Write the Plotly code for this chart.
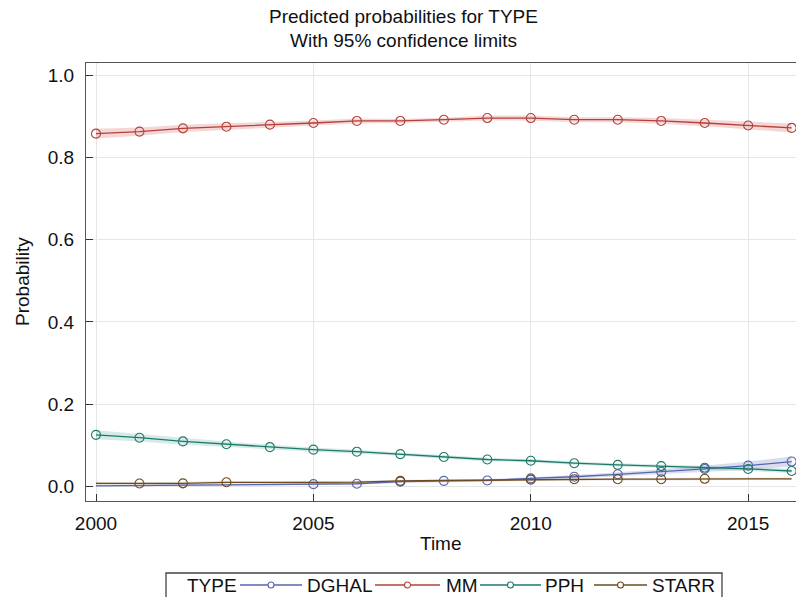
import plotly.graph_objects as go

years = list(range(2000, 2017))

# Predicted probabilities
dghal = [0.001, 0.002, 0.002, 0.003, 0.004, 0.005, 0.006, 0.011, 0.013, 0.014,
         0.019, 0.023, 0.029, 0.035, 0.042, 0.050, 0.060]
dghal_lo = [0.000, 0.000, 0.000, 0.001, 0.002, 0.003, 0.004, 0.008, 0.010, 0.011,
            0.016, 0.019, 0.024, 0.029, 0.034, 0.040, 0.048]
dghal_hi = [0.003, 0.004, 0.004, 0.005, 0.006, 0.007, 0.008, 0.014, 0.016, 0.017,
            0.022, 0.027, 0.034, 0.041, 0.050, 0.060, 0.072]

mm = [0.858, 0.863, 0.871, 0.875, 0.880, 0.884, 0.889, 0.889, 0.892, 0.896,
      0.896, 0.892, 0.892, 0.889, 0.884, 0.878, 0.872]
mm_lo = [0.846, 0.853, 0.862, 0.867, 0.873, 0.878, 0.883, 0.884, 0.887, 0.890,
         0.890, 0.886, 0.886, 0.882, 0.876, 0.869, 0.861]
mm_hi = [0.870, 0.873, 0.880, 0.883, 0.887, 0.890, 0.895, 0.894, 0.897, 0.902,
         0.902, 0.898, 0.898, 0.896, 0.892, 0.887, 0.883]

pph = [0.125, 0.118, 0.109, 0.102, 0.095, 0.089, 0.084, 0.078, 0.071, 0.065,
       0.062, 0.056, 0.052, 0.049, 0.045, 0.042, 0.037]
pph_lo = [0.114, 0.109, 0.101, 0.095, 0.089, 0.084, 0.079, 0.074, 0.067, 0.061,
          0.058, 0.052, 0.048, 0.045, 0.040, 0.037, 0.032]
pph_hi = [0.136, 0.127, 0.117, 0.109, 0.101, 0.094, 0.089, 0.082, 0.075, 0.069,
          0.066, 0.060, 0.056, 0.053, 0.050, 0.047, 0.042]

starr = [0.007, 0.0065, 0.007, 0.0095, 0.009, 0.0095, 0.010, 0.013, 0.014, 0.015,
         0.016, 0.017, 0.017, 0.017, 0.018, 0.018, 0.018]
starr_lo = [0.003, 0.003, 0.003, 0.006, 0.006, 0.006, 0.007, 0.010, 0.011, 0.012,
            0.013, 0.014, 0.014, 0.014, 0.015, 0.015, 0.015]
starr_hi = [0.011, 0.010, 0.011, 0.013, 0.012, 0.013, 0.013, 0.016, 0.017, 0.018,
            0.019, 0.020, 0.020, 0.020, 0.021, 0.021, 0.021]

# years where a marker is shown
dghal_marks = list(range(2005, 2017))
mm_marks = years
pph_marks = years
starr_marks = [2001, 2002, 2003, 2007, 2010, 2011, 2012, 2013, 2014]

names = ["DGHAL", "MM", "PPH", "STARR"]
colors = ["#5566b0", "#b3403a", "#1d7a6a", "#6e4a1c"]
fills = ["rgba(85,102,176,0.22)", "rgba(215,90,90,0.25)",
         "rgba(29,140,120,0.18)", "rgba(130,100,60,0.15)"]
values = [dghal, mm, pph, starr]
lows = [dghal_lo, mm_lo, pph_lo, starr_lo]
highs = [dghal_hi, mm_hi, pph_hi, starr_hi]
marks = [dghal_marks, mm_marks, pph_marks, starr_marks]

fig = go.Figure()

for lo, hi, fill in zip(lows, highs, fills):
    fig.add_trace(go.Scatter(x=years, y=lo, mode="lines", line=dict(width=0),
                             hoverinfo="skip", showlegend=False))
    fig.add_trace(go.Scatter(x=years, y=hi, mode="lines", line=dict(width=0),
                             fill="tonexty", fillcolor=fill,
                             hoverinfo="skip", showlegend=False))

for name, v, mk, col in zip(names, values, marks, colors):
    fig.add_trace(go.Scatter(x=years, y=v, mode="lines", name=name,
                             line=dict(color=col, width=1.3), showlegend=False))
    mx = [y for y in years if y in mk]
    my = [v[years.index(y)] for y in mx]
    fig.add_trace(go.Scatter(x=mx, y=my, mode="markers", cliponaxis=False,
                             marker=dict(symbol="circle-open", size=9, color=col,
                                         line=dict(width=1.1, color=col)),
                             showlegend=False))

# ---- layout geometry (pixels) ----
W, H = 796, 597
L, R, T, B = 86, 0, 63, 96
PW, PH = W - L - R, H - T - B


def px_x(px):
    return (px - L) / PW


def px_y(py):
    return (H - B - py) / PH


font_family = "Liberation Sans, Arial, sans-serif"
txt_col = "#111111"
FS = 19


def label(text, x, y, xanchor="center", angle=0, size=FS):
    return dict(text=text, x=px_x(x), y=px_y(y), xref="paper", yref="paper",
                showarrow=False, xanchor=xanchor, yanchor="middle", textangle=angle,
                font=dict(size=size, color=txt_col))


annotations = [
    label("Predicted probabilities for TYPE", 403, 17),
    label("With 95% confidence limits", 403, 40),
    label("Probability", 22, 282, angle=-90),
    label("Time", 441, 543),
]

shapes = []

# custom legend (box, title, line samples with markers, labels)
leg_y = 585
shapes.append(dict(type="rect", xref="paper", yref="paper",
                   x0=px_x(166), x1=px_x(722), y0=px_y(573), y1=px_y(615),
                   line=dict(color="#444444", width=1.3), fillcolor="white", layer="above"))
annotations.append(label("TYPE", 185, leg_y, xanchor="left"))
leg_lines = [(240, 302), (375, 440), (480, 541), (594, 647)]
leg_text_x = [305, 444, 543, 650]
for (x0, x1), tx, name, col in zip(leg_lines, leg_text_x, names, colors):
    shapes.append(dict(type="line", xref="paper", yref="paper",
                       x0=px_x(x0), x1=px_x(x1), y0=px_y(leg_y), y1=px_y(leg_y),
                       line=dict(color=col, width=1.3), layer="above"))
    xc = px_x((x0 + x1) / 2)
    yc = px_y(leg_y)
    shapes.append(dict(type="circle", xref="paper", yref="paper",
                       xsizemode="pixel", ysizemode="pixel", xanchor=xc, yanchor=yc,
                       x0=-3, x1=3, y0=-3, y1=3,
                       line=dict(color=col, width=1.1), fillcolor="white", layer="above"))
    annotations.append(label(name, tx, leg_y, xanchor="left"))

fig.update_layout(
    width=W, height=H,
    margin=dict(l=L, r=R, t=T, b=B, autoexpand=False),
    paper_bgcolor="white", plot_bgcolor="white",
    font=dict(family=font_family, size=FS, color=txt_col),
    xaxis=dict(range=[1999.77, 2016.10], tickvals=[2000, 2005, 2010, 2015],
               ticks="inside", ticklen=7, tickcolor="#333333",
               showline=True, linecolor="#555555", linewidth=1.3, mirror=True,
               showgrid=True, gridcolor="#e6e6e6", zeroline=False,
               ticklabelstandoff=5,
               tickfont=dict(size=FS)),
    yaxis=dict(range=[-0.036, 1.03], tickvals=[0, 0.2, 0.4, 0.6, 0.8, 1.0],
               tickformat=".1f",
               ticks="inside", ticklen=7, tickcolor="#333333",
               showline=True, linecolor="#555555", linewidth=1.3,
               showgrid=True, gridcolor="#e6e6e6", zeroline=False,
               ticklabelstandoff=7,
               tickfont=dict(size=FS)),
    showlegend=False,
    annotations=annotations,
    shapes=shapes,
)

fig.write_html("out.html")
